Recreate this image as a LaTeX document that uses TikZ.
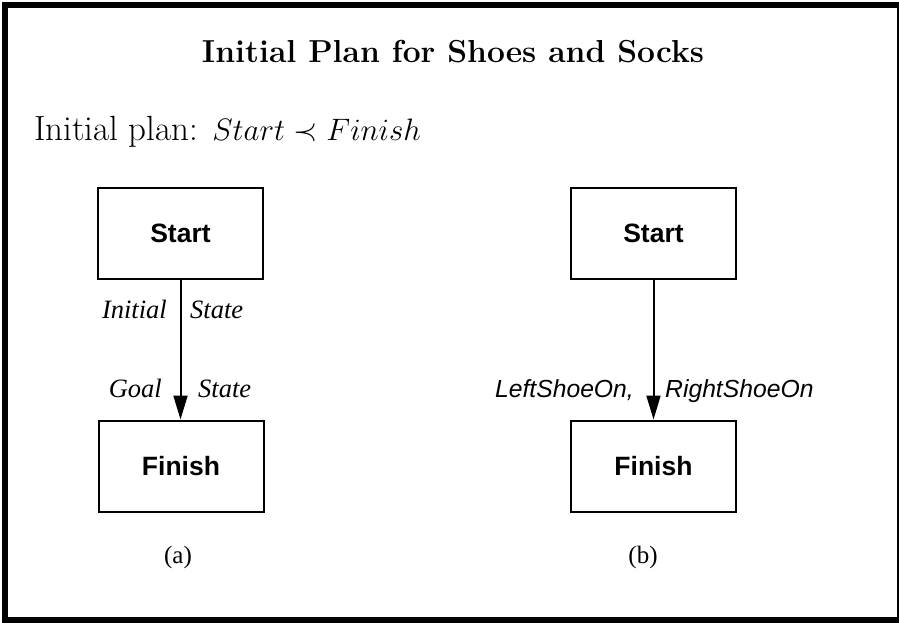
\RequirePackage{fix-cm}
\documentclass[tikz,border=0pt]{standalone}
\usepackage{fontspec}
\usetikzlibrary{arrows.meta}
\newfontfamily\timesf{Liberation Serif}
\newfontfamily\arialf{Liberation Sans}
\tikzset{
  box/.style={draw, line width=2pt, minimum width=165pt, minimum height=91pt, inner sep=0pt,
    font=\arialf\bfseries\fontsize{26.5}{30}\selectfont},
  arr/.style={line width=2pt, -{Triangle[length=24pt,width=14pt]}},
  tlab/.style={inner sep=0pt, font=\timesf\itshape\fontsize{26.5}{30}\selectfont},
  slab/.style={inner sep=0pt, font=\arialf\itshape\fontsize{24.7}{28}\selectfont},
  sublab/.style={inner sep=0pt, font=\timesf\fontsize{25}{29}\selectfont}
}
\begin{document}
\begin{tikzpicture}[x=1pt,y=-1pt]
\useasboundingbox (0,0) rectangle (899,622);
\begin{scope}
\clip (0,0) rectangle (899,622);
\draw[line width=6pt] (5,5) rectangle (899.5,620);
\end{scope}
\node[inner sep=0pt, anchor=base, font=\bfseries\fontsize{31.8}{36}\selectfont] (title) at (453,62) {Initial Plan for Shoes and Socks};
\node[inner sep=0pt, anchor=base west, font=\fontsize{35}{40}\selectfont] (plan) at (34,140) {Initial plan: {\fontsize{31}{36}\selectfont$Start \prec Finish$}};
% (a)
\node[box] (sa) at (180.5,233.5) {Start};
\node[box] (fa) at (181,466) {Finish};
\draw[arr] (sa.south) -- (sa.south |- fa.north);
\node[tlab, anchor=base east] (ia) at (167,318) {Initial};
\node[tlab, anchor=base west] (isa) at (190,318) {State};
\node[tlab, anchor=base east] (ga) at (162,397) {Goal};
\node[tlab, anchor=base west] (gsa) at (198,397) {State};
\node[sublab] (capa) at (178,557) {(a)};
% (b)
\node[box] (sb) at (653.5,233.5) {Start};
\node[box] (fb) at (653.5,466) {Finish};
\draw[arr] (sb.south) -- (sb.south |- fb.north);
\node[slab, anchor=base east] (lb) at (634,397) {LeftShoeOn,};
\node[slab, anchor=base west] (rb) at (665,397) {RightShoeOn};
\node[sublab] (capb) at (643,557) {(b)};
\end{tikzpicture}
\end{document}
